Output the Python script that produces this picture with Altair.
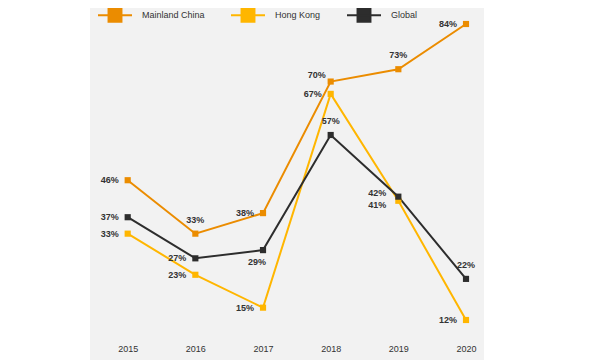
import altair as alt
import pandas as pd

years = [2015, 2016, 2017, 2018, 2019, 2020]
series_names = ["Mainland China", "Hong Kong", "Global"]
mainland = [46, 33, 38, 70, 73, 84]
hongkong = [33, 23, 15, 67, 41, 12]
global_vals = [37, 27, 29, 57, 42, 22]
pos_mainland = ["left", "above", "left", "above_left", "above", "left"]
pos_hongkong = ["left", "left", "left", "left", "left_down", "left"]
pos_global = ["left", "left", "below_left", "above", "left_up", "above"]
colors = ["#EB8C00", "#FFB600", "#2D2D2D"]

rows = []
for name, vals, poss in [("Mainland China", mainland, pos_mainland),
                         ("Hong Kong", hongkong, pos_hongkong),
                         ("Global", global_vals, pos_global)]:
    for y, v, p in zip(years, vals, poss):
        rows.append({"year": y, "series": name, "value": v, "label": f"{v}%", "pos": p})
df = pd.DataFrame(rows)

FONT = "Liberation Sans"
TXT = "#333333"

x_enc = alt.X(
    "year:Q",
    scale=alt.Scale(domain=[2014.443, 2020.266], nice=False, zero=False),
    axis=alt.Axis(values=years, format="d", title=None, grid=False, domain=False,
                  ticks=False, tickSize=0, labelFont=FONT, labelFontSize=9,
                  labelColor=TXT, offset=-14, labelPadding=2, labelBaseline="middle"),
)
y_enc = alt.Y("value:Q", scale=alt.Scale(domain=[2.27, 87.89], nice=False, zero=False), axis=None)

color_scale = alt.Scale(domain=series_names, range=colors)
legend = alt.Legend(
    title=None, orient="none", legendX=7, legendY=-11, direction="horizontal",
    symbolType="M-1,0L1,0M-0.38,-0.38L0.38,-0.38L0.38,0.38L-0.38,0.38Z",
    symbolSize=1156, symbolStrokeWidth=2, symbolOpacity=1,
    labelFont=FONT, labelFontSize=9, labelColor=TXT, labelOffset=9,
    columnPadding=22, padding=0,
)

base = alt.Chart(df).encode(x=x_enc, y=y_enc)

lines = base.mark_line(strokeWidth=2).encode(
    color=alt.Color("series:N", scale=color_scale, legend=legend)
)
points = base.mark_point(shape="square", filled=True, size=38, opacity=1).encode(
    color=alt.Color("series:N", scale=color_scale, legend=legend)
)

placements = {
    "left": dict(align="right", dx=-9, dy=0),
    "left_up": dict(align="right", dx=-12, dy=-4),
    "left_down": dict(align="right", dx=-12, dy=4),
    "above": dict(align="center", dx=0, dy=-14),
    "above_left": dict(align="right", dx=-5, dy=-7),
    "below_left": dict(align="center", dx=-6, dy=12),
}
text_layers = []
for key, p in placements.items():
    text_layers.append(
        base.transform_filter(alt.datum.pos == key).mark_text(
            font=FONT, fontSize=9, fontWeight="bold", color=TXT,
            baseline="middle", **p
        ).encode(text="label:N")
    )

chart = alt.layer(lines, points, *text_layers).properties(
    width=394, height=352,
    padding={"left": 82, "top": 0, "right": 0, "bottom": 0},
    autosize=alt.AutoSizeParams(type="none"),
).configure(background="white").configure_view(fill="#F2F2F2", stroke=None)

chart.save("out.html", embed_options={"renderer": "svg", "actions": False})
